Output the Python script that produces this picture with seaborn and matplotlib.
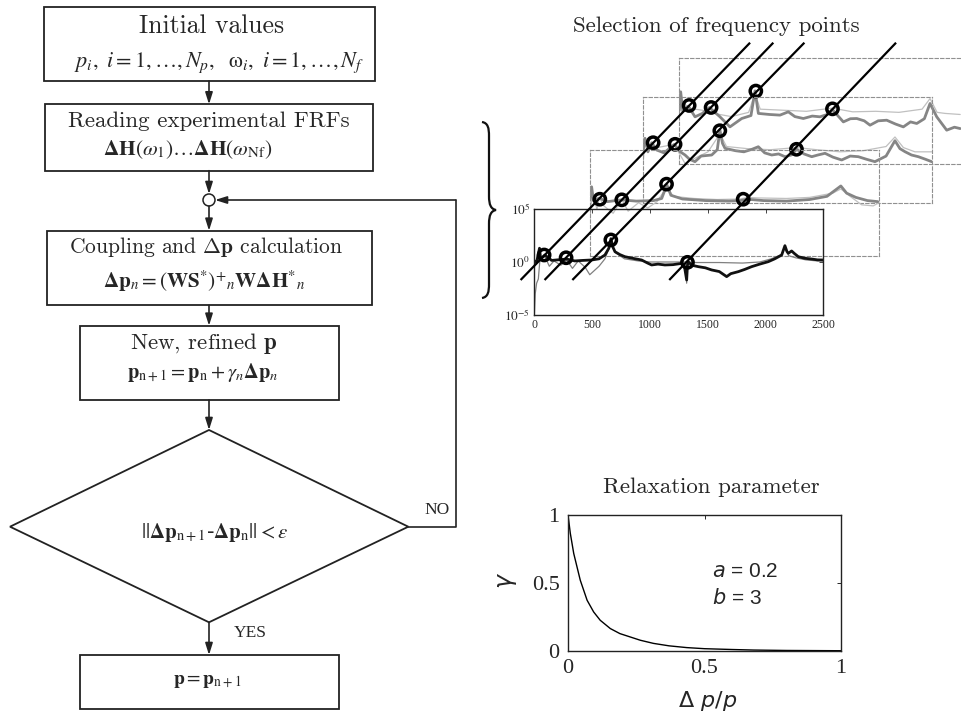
import numpy as np
import matplotlib
matplotlib.use("Agg")
import matplotlib.pyplot as plt
import seaborn as sns
from matplotlib.patches import Rectangle, Polygon, Circle, PathPatch
from matplotlib.path import Path
from matplotlib.ticker import NullLocator

# ---------------- data ----------------
# FRF curves: frequency [Hz] and log10 magnitude
front_thick_f = [0, 20, 45, 55, 92, 150, 200, 280, 350, 420, 496, 560, 611, 645, 663, 680, 698, 740, 784, 850,
                 928, 980, 1015, 1070, 1130, 1200, 1275, 1300, 1318, 1325, 1332, 1360, 1419, 1480, 1534, 1600,
                 1664, 1700, 1765, 1820, 1880, 1950, 2024, 2080, 2140, 2168, 2185, 2197, 2226, 2250, 2284, 2340,
                 2399, 2450, 2500]
front_thick_log = [0.1, 0.0, 1.3, 0.3, 0.66, 0.15, 0.2, 0.28, 0.1, 0.15, 0.19, 0.3, 0.66, 1.3, 2.2, 1.4, 0.97,
                   0.7, 0.5, 0.35, 0.19, -0.1, -0.28, -0.2, -0.28, -0.25, -0.13, -0.5, -1.7, -0.3, 0.03, -0.3,
                   -0.44, -0.55, -0.75, -0.9, -1.38, -1.1, -0.91, -0.7, -0.44, -0.2, 0.03, 0.3, 0.66, 1.54, 1.0,
                   0.82, 1.04, 0.8, 0.5, 0.35, 0.28, 0.2, 0.19]
front_thin_f = [0, 8, 20, 35, 50, 92, 130, 170, 230, 280, 330, 380, 440, 480, 520, 560, 611, 663, 700, 780,
                900, 1000, 1150, 1250, 1310, 1318, 1326, 1400, 1600, 1800, 1950, 2050, 2140, 2168, 2200, 2260,
                2350, 2450, 2500]
front_thin_log = [-5.0, -3.0, -2.0, -1.6, 0.4, 0.5, -0.4, 0.1, -0.3, 0.2, -0.6, 0.1, -0.5, -1.2, -0.8, -0.4,
                  0.3, 1.8, 0.9, 0.3, 0.1, 0.0, 0.0, 0.0, 0.0, -2.0, 0.0, -0.05, -0.05, -0.1, 0.0, 0.3, 0.7,
                  1.4, 0.6, 0.4, 0.2, 0.1, 0.1]

p1_thick_f = [0, 14, 30, 81, 150, 275, 400, 550, 620, 665, 700, 800, 1000, 1200, 1300, 1360, 1500, 1700,
              1900, 2050, 2170, 2220, 2300, 2400, 2490]
p1_thick_log = [0.3, 1.5, 0.2, 0.43, 0.1, 0.27, 0.15, 0.2, 0.4, 1.68, 0.7, 0.35, 0.2, 0.15, 0.2, 0.33, 0.2,
                0.15, 0.3, 0.6, 1.58, 0.9, 0.5, 0.2, 0.1]
p1_thin_f = [0, 20, 60, 81, 120, 200, 275, 330, 420, 500, 580, 665, 720, 900, 1100, 1300, 1360, 1450, 1700,
             1900, 2100, 2170, 2250, 2350, 2450, 2500]
p1_thin_log = [-1.5, 1.0, -0.6, 0.5, -0.3, -1.0, 0.3, -0.8, 0.0, -0.5, 0.1, 1.5, 0.6, 0.4, 0.3, 0.35, 0.5,
               0.45, 0.4, 0.5, 0.9, 1.3, 0.6, -0.2, -0.3, 0.0]

p2_thick_f = [0, 15, 40, 73, 116, 180, 268, 320, 361, 400, 447, 500, 592, 640, 663, 685, 707, 800, 870, 938,
              995, 1050, 1111, 1170, 1226, 1280, 1327, 1390, 1457, 1510, 1572, 1640, 1716, 1790, 1860, 1930,
              2004, 2100, 2177, 2220, 2264, 2320, 2379, 2440, 2495]
p2_thick_log = [0.0, 1.07, -0.2, 0.66, -0.03, -0.3, 0.5, -0.2, -0.5, -0.9, -1.13, -0.6, -0.5, 0.0, 1.86, 0.6,
                0.13, -0.1, -0.2, 0.03, 0.28, -0.3, -0.5, -0.4, -0.66, -0.5, 0.04, -0.4, -0.66, -0.5, -0.34,
                -0.7, -0.97, -0.6, -0.66, -0.9, -1.13, -0.6, 0.85, 0.1, -0.19, -0.5, -0.66, -0.9, -1.13]
p2_thin_f = [0, 15, 60, 120, 268, 361, 447, 560, 663, 720, 900, 1100, 1327, 1500, 1700, 1900, 2100, 2177,
             2250, 2350, 2495]
p2_thin_log = [-1.0, 0.8, 0.4, 0.2, 0.5, -1.3, -0.8, -0.2, 1.5, 0.3, 0.1, 0.0, 0.2, 0.0, -0.2, -0.1, 0.3,
               1.2, 0.2, -0.2, -0.2]

p3_thick_f = [0, 12, 30, 78, 136, 200, 260, 352, 438, 540, 620, 655, 684, 780, 871, 943, 1000, 1073, 1150,
              1217, 1280, 1324, 1419, 1480, 1535, 1600, 1650, 1720, 1794, 1870, 1938, 2000, 2054, 2120, 2169,
              2227, 2313, 2380, 2430]
p3_thick_log = [0.1, 1.84, 0.0, 0.49, -0.52, -0.2, 0.36, -0.52, -1.47, -0.68, -0.4, 1.93, -0.2, -0.3, -0.36,
                -0.05, -0.5, -0.68, -0.45, -0.52, -0.3, 0.17, -1.0, -0.7, -0.68, -0.9, -1.31, -0.9, -0.84,
                -1.2, -1.47, -1.0, -1.15, -0.7, 0.74, -0.52, -1.78, -1.5, -1.63]
p3_thin_f = [0, 12, 78, 200, 300, 450, 600, 655, 700, 900, 1100, 1324, 1500, 1700, 1900, 2100, 2169, 2230,
             2300, 2430]
p3_thin_log = [-0.5, 1.2, 0.3, 0.1, -0.2, -0.5, -0.1, 1.7, 0.2, 0.1, 0.0, 0.3, -0.05, 0.0, -0.1, 0.2, 1.2,
               -0.1, -0.2, -0.3]

# selected frequency points (same in every panel) and their log10 magnitude per panel
circle_f = [85, 275, 662, 1325]
circle_log_front = [0.66, 0.40, 2.08, -0.03]
circle_log_p1 = [0.33, 0.27, 1.75, 0.33]
circle_log_p2 = [0.66, 0.51, 1.79, 0.04]
circle_log_p3 = [0.55, 0.36, 1.91, 0.23]

freq_ticks = [0, 500, 1000, 1500, 2000, 2500]
mag_ticks = [1e-5, 1e0, 1e5]
mag_tick_labels = [r"$10^{-5}$", r"$10^{0}$", r"$10^{5}$"]

# relaxation parameter curve
relax_x = [0, 0.0085, 0.021, 0.045, 0.07, 0.094, 0.118, 0.155, 0.19, 0.265, 0.313, 0.37, 0.435, 0.5, 0.6,
           0.68, 0.8, 0.9, 1.0]
relax_gamma = [1.0, 0.865, 0.717, 0.52, 0.373, 0.287, 0.226, 0.165, 0.128, 0.079, 0.056, 0.038, 0.025, 0.017,
               0.011, 0.007, 0.004, 0.003, 0.002]
relax_ticks = [0, 0.5, 1]
relax_tick_labels = ["0", "0.5", "1"]

# ---------------- style ----------------
sns.set_style("white")
plt.rcParams["font.family"] = ["DejaVu Sans"]
plt.rcParams["mathtext.fontset"] = "stix"

W, H = 961, 717
fig = plt.figure(figsize=(W / 100, H / 100), dpi=100)


def px_axes(l, t, w, h, **kw):
    return fig.add_axes([l / W, 1 - (t + h) / H, w / W, h / H], **kw)


SERIF = "Liberation Serif"
CM = dict(fontfamily="cmr10", math_fontfamily="cm")
LINE = "#222222"

# ---------------- FRF stack ----------------
panel_pos = [(534.3, 209.0), (590.0, 149.7), (643.3, 96.7), (679.3, 58.3)]
panel_data = [
    (front_thick_f, front_thick_log, front_thin_f, front_thin_log, circle_log_front),
    (p1_thick_f, p1_thick_log, p1_thin_f, p1_thin_log, circle_log_p1),
    (p2_thick_f, p2_thick_log, p2_thin_f, p2_thin_log, circle_log_p2),
    (p3_thick_f, p3_thick_log, p3_thin_f, p3_thin_log, circle_log_p3),
]
panel_axes = []
for k, ((l, t), (tf, tl, nf, nl, cl)) in enumerate(zip(panel_pos, panel_data)):
    ax = px_axes(l, t, 289, 106)
    ax.set_zorder(5 - k)
    ax.patch.set_alpha(0)
    ax.set_yscale("log")
    ax.set_xlim(0, 2500)
    ax.set_ylim(1e-5, 1e5)
    front = (k == 0)
    thick_c = "#111111" if front else "#858585"
    thin_c = "#808080" if front else "#c0c0c0"
    sns.lineplot(x=nf, y=10 ** np.array(nl), ax=ax, color=thin_c, lw=0.9, estimator=None, sort=False)
    sns.lineplot(x=tf, y=10 ** np.array(tl), ax=ax, color=thick_c, lw=2.0, estimator=None, sort=False)
    ax.scatter(circle_f, 10 ** np.array(cl), s=66, facecolors="none", edgecolors="black",
               linewidths=2.5, zorder=6, clip_on=False)
    ax.yaxis.set_minor_locator(NullLocator())
    ax.xaxis.set_minor_locator(NullLocator())
    ax.set_xlabel("")
    ax.set_ylabel("")
    if front:
        ax.set_xticks(freq_ticks)
        ax.set_xticklabels([str(v) for v in freq_ticks], fontfamily=SERIF, fontsize=8.5)
        ax.set_yticks(mag_ticks)
        ax.set_yticklabels(mag_tick_labels, fontsize=9.5)
        ax.tick_params(direction="in", length=3, width=0.6, pad=3, top=True, right=True)
        for sp in ax.spines.values():
            sp.set_color("#222222")
            sp.set_linewidth(1.0)
    else:
        ax.set_xticks([])
        ax.set_yticks([])
        for sp in ax.spines.values():
            sp.set_linestyle((0, (3, 2)))
            sp.set_color("#909090")
            sp.set_linewidth(0.8)
    panel_axes.append(ax)

# ---------------- overlay (flowchart, lines, texts) ----------------
ov = fig.add_axes([0, 0, 1, 1], zorder=20)
ov.patch.set_alpha(0)
ov.set_xlim(0, W)
ov.set_ylim(H, 0)
ov.axis("off")

# diagonal selection lines through the circles of the four panels
circle_sets = [circle_log_front, circle_log_p1, circle_log_p2, circle_log_p3]
to_ov = ov.transData.inverted()
for j, f in enumerate(circle_f):
    pts = []
    for ax, cl in zip(panel_axes, circle_sets):
        d = ax.transData.transform((f, 10 ** cl[j]))
        pts.append(to_ov.transform(d))
    pts = np.array(pts)
    a, b = np.polyfit(pts[:, 1], pts[:, 0], 1)
    y0, y1 = 280.0, 42.7
    ov.plot([a * y0 + b, a * y1 + b], [y0, y1], color="black", lw=1.6, solid_capstyle="butt")

# curly brace
bverts = [(482, 122), (488, 123), (489, 128), (489, 136), (489, 196),
          (489, 205), (491, 209), (496, 210),
          (491, 211), (489, 215), (489, 224),
          (489, 284), (489, 292), (488, 297), (482, 298)]
bcodes = [Path.MOVETO, Path.CURVE4, Path.CURVE4, Path.CURVE4, Path.LINETO,
          Path.CURVE4, Path.CURVE4, Path.CURVE4,
          Path.CURVE4, Path.CURVE4, Path.CURVE4,
          Path.LINETO, Path.CURVE4, Path.CURVE4, Path.CURVE4]
ov.add_patch(PathPatch(Path(bverts, bcodes), fill=False, lw=1.6, color="#111111"))

# flowchart boxes
def box(l, t, r, b):
    ov.add_patch(Rectangle((l, t), r - l, b - t, fill=False, lw=1.3, ec=LINE))

def arrow(x, y0, y1):
    ov.annotate("", xy=(x, y1), xytext=(x, y0),
                arrowprops=dict(arrowstyle="-|>,head_length=0.7,head_width=0.22", color=LINE, lw=1.2,
                                shrinkA=0, shrinkB=0))

box(44.3, 6.7, 375, 81)
box(45, 104.3, 373.3, 170.7)
box(47.3, 230.7, 371.7, 305.3)
box(80, 325.7, 339, 400)
box(80, 655, 339, 709.3)
ov.add_patch(Polygon([(209, 430), (408.3, 526.7), (209, 622.3), (10, 526.7)], closed=True, fill=False,
                     lw=1.3, ec=LINE))
ov.add_patch(Circle((209, 200), 6, fill=False, lw=1.1, ec=LINE))

arrow(209, 81, 104.3)
arrow(209, 170.7, 194)
arrow(209, 206, 230.7)
arrow(209, 305.3, 325.7)
arrow(209, 400, 430)
arrow(209, 622.3, 655)
ov.plot([408.3, 455.7, 455.7], [526.7, 526.7, 200], color=LINE, lw=1.2)
ov.annotate("", xy=(215, 200), xytext=(455.7, 200),
            arrowprops=dict(arrowstyle="-|>,head_length=0.7,head_width=0.22", color=LINE, lw=1.2,
                            shrinkA=0, shrinkB=0))

# flowchart texts
ov.text(212, 26, "Initial values", ha="center", va="center", fontsize=18.5, **CM)
ov.text(219, 63, r"$p_i,\ i{=}1,\ldots,N_p,\ \ \mathrm{\omega}_i,\ i{=}1,\ldots,N_f$",
        ha="center", va="center", fontsize=16)
ov.text(209, 121.7, "Reading experimental FRFs", ha="center", va="center", fontsize=16.5, **CM)
ov.text(187.5, 150, r"$\mathbf{\Delta H}(\omega_1)\ldots\mathbf{\Delta H}(\omega_{\mathrm{Nf}})$",
        ha="center", va="center", fontsize=15.4)
ov.text(206, 246.7, r"Coupling and $\mathbf{\Delta p}$ calculation", ha="center", va="center",
        fontsize=15.5, **CM)
ov.text(204, 281.7, r"$\mathbf{\Delta p}_n = (\mathbf{WS}^{*})^{+}{}_{n}\mathbf{W\Delta H}^{*}{}_{n}$",
        ha="center", va="center", fontsize=15.2)
ov.text(204, 343.3, r"New, refined $\mathbf{p}$", ha="center", va="center", fontsize=16.5, **CM)
ov.text(203, 372.7, r"$\mathbf{p}_{\mathrm{n+1}} = \mathbf{p}_{\mathrm{n}} + \gamma_n\mathbf{\Delta p}_n$",
        ha="center", va="center", fontsize=14.7)
ov.text(215, 533, r"$||\mathbf{\Delta p}_{\mathrm{n+1}}$-$\mathbf{\Delta p}_{\mathrm{n}}|| < \varepsilon$",
        ha="center", va="center", fontsize=15)
ov.text(207, 680, r"$\mathbf{p} = \mathbf{p}_{\mathrm{n+1}}$", ha="center", va="center", fontsize=14)
ov.text(437, 510, "NO", ha="center", va="center", fontsize=12.5, fontfamily=SERIF)
ov.text(250, 633, "YES", ha="center", va="center", fontsize=12.5, fontfamily=SERIF)

# chart titles
ov.text(716, 26.7, "Selection of frequency points", ha="center", va="center", fontsize=16.5, **CM)
ov.text(711.7, 487.3, "Relaxation parameter", ha="center", va="center", fontsize=16.5, **CM)

# ---------------- relaxation parameter ----------------
axr = px_axes(568, 515, 273, 136)
sns.lineplot(x=relax_x, y=relax_gamma, ax=axr, color="black", lw=1.0, estimator=None, sort=False)
axr.set_xlim(0, 1)
axr.set_ylim(0, 1)
axr.set_xticks(relax_ticks)
axr.set_xticklabels(relax_tick_labels, fontfamily=SERIF, fontsize=16)
axr.set_yticks(relax_ticks)
axr.set_yticklabels(relax_tick_labels, fontfamily=SERIF, fontsize=16)
axr.tick_params(direction="in", length=3, width=0.7, pad=6, top=True, right=True)
for sp in axr.spines.values():
    sp.set_color("#222222")
    sp.set_linewidth(1.0)
axr.set_xlabel("")
axr.set_ylabel("")
axr.text(0.526, 0.583, r"$a$ = 0.2", ha="left", va="center", fontsize=15,
         fontfamily="Liberation Sans", math_fontfamily="dejavusans")
axr.text(0.526, 0.39, r"$b$ = 3", ha="left", va="center", fontsize=15,
         fontfamily="Liberation Sans", math_fontfamily="dejavusans")
ov.text(708, 701, r"$\Delta\ p/p$", ha="center", va="center", fontsize=16, math_fontfamily="dejavusans")
ov.text(507, 580, r"$\gamma$", ha="center", va="center", fontsize=17, rotation=90,
        math_fontfamily="dejavusans")

fig.savefig("out.png", dpi=100)
